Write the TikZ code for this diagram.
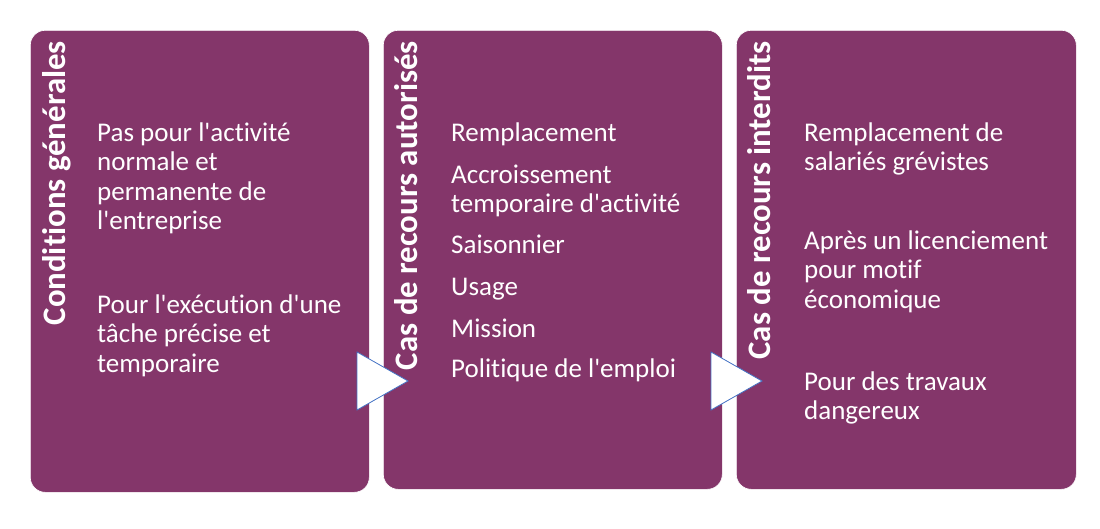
\documentclass[tikz,border=0pt]{standalone}
\usepackage{fontspec}
\setmainfont{Carlito}[Ligatures={TeXOff,NoCommon}]
\definecolor{plum}{RGB}{132,54,106}
\definecolor{tribord}{RGB}{68,114,196}
\newcommand{\fl}{\rule{0pt}{22pt}}
\tikzset{
  panel/.style={fill=plum, draw=white, line width=0.6pt, rounded corners=15pt, anchor=north west, minimum width=#1, inner sep=0pt},
  title/.style={rotate=90, anchor=north east, text=white, font=\fontsize{32.8}{34}\bfseries\selectfont, inner sep=0pt},
  body/.style={anchor=north west, text=white, align=left, inner sep=0pt, font=\fontsize{27}{29.5}\selectfont},
  tri/.style={fill=white, draw=tribord, line width=0.8pt, line join=miter}
}
\begin{document}
\begin{tikzpicture}[x=1pt,y=-1pt]
\useasboundingbox (0,0) rectangle (1100,528);
\node[panel=339pt, minimum height=462pt] (b1) at (30,30) {};
\node[panel=339pt, minimum height=459pt] (b2) at (383,30) {};
\node[panel=340pt, minimum height=459pt] (b3) at (736,30) {};
% titles
\node[title] (t1) at (42,41) {Conditions générales};
\node[title] (t2) at (394,41) {Cas de recours autorisés};
\node[title] (t3) at (747,41) {Cas de recours interdits};
% body texts (first baseline = y + 22)
\node[body] (p11) at (97,119) {\fl Pas pour l'activité\\normale et\\permanente de\\l'entreprise};
\node[body] (p12) at (97,291) {\fl Pour l'exécution d'une\\tâche précise et\\temporaire};
\node[body] (p21) at (451,119) {\fl Remplacement};
\node[body] (p22) at (451,161) {\fl Accroissement\\temporaire d'activité};
\node[body] (p23) at (451,231) {\fl Saisonnier};
\node[body] (p24) at (451,273) {\fl Usage};
\node[body] (p25) at (451,315) {\fl Mission};
\node[body] (p26) at (451,355) {\fl Politique de l'emploi};
\node[body] (p31) at (804,119) {\fl Remplacement de\\salariés grévistes};
\node[body] (p32) at (804,227) {\fl Après un licenciement\\pour motif\\économique};
\node[body] (p33) at (804,368) {\fl Pour des travaux\\dangereux};
% arrows
\draw[tri] (357,352) -- (408,381) -- (357,410) -- cycle;
\draw[tri] (711,352) -- (762,381) -- (711,410) -- cycle;
\end{tikzpicture}
\end{document}
